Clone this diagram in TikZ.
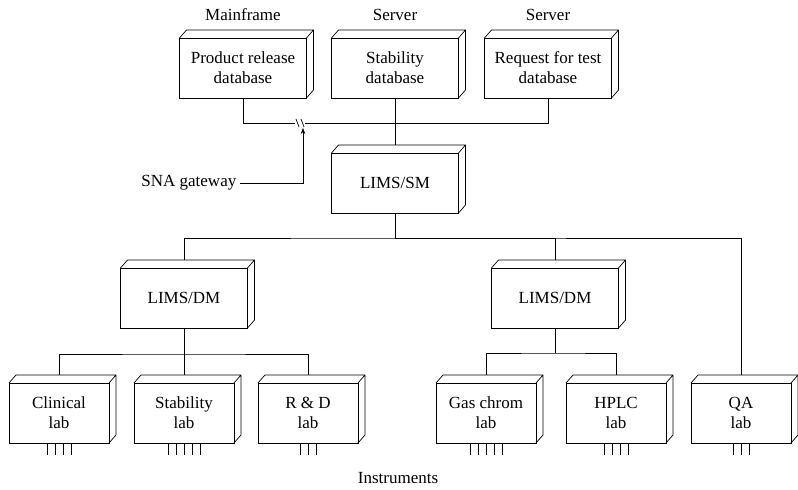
\documentclass[tikz,border=0pt]{standalone}
\usepackage{fontspec}
\setmainfont{Liberation Serif}
\usetikzlibrary{arrows.meta, positioning, calc}
\newcommand{\boxfont}{\fontsize{17pt}{20pt}\selectfont}
\tikzset{
  dbbox/.style={rectangle, minimum width=127pt, minimum height=60pt,
    draw=black, inner sep=0pt, outer sep=0pt, align=center, font=\boxfont},
  labbox/.style={rectangle, minimum width=100pt, minimum height=60pt,
    draw=black, inner sep=0pt, outer sep=0pt, align=center, font=\boxfont},
  caption/.style={font=\boxfont},
  arrow/.style={-{Stealth[length=6pt, width=4.5pt]}}
}

\begin{document}
\begin{tikzpicture}[x=1pt, y=1pt, line width=0.7pt]
\useasboundingbox (0,0) rectangle (798,490);

% databases on top
\node (stb) [dbbox] at (395,422)         {Stability\\database};
\node (prd) [dbbox, left=25pt of stb]    {Product release\\database};
\node (req) [dbbox, right=26pt of stb]   {Request for test\\database};
\node (mfr)  [caption, above=14pt of prd] {Mainframe};
\node (srv1) [caption, above=14pt of stb] {Server};
\node (srv2) [caption, above=14pt of req] {Server};

% LIMS managers
\node (sm)  [dbbox, below=55pt of stb] {LIMS/SM};
\node (dmL) [dbbox] at (184,192)       {LIMS/DM};
\node (dmR) [dbbox] at (555,192)       {LIMS/DM};

% labs
\node (clin) [labbox] at (59,77)          {Clinical\\lab};
\node (stbl) [labbox, right=25pt of clin] {Stability\\lab};
\node (rnd)  [labbox, right=24pt of stbl] {R \& D\\lab};
\node (gas)  [labbox] at (486,77)         {Gas chrom\\lab};
\node (hplc) [labbox, right=30pt of gas]  {HPLC\\lab};
\node (qa)   [labbox, right=25pt of hplc] {QA\\lab};

\node (sna)   [caption, anchor=east] at (240,307) {SNA gateway};
\node (instr) [caption, anchor=base] at (398,6)   {Instruments};

% top and side faces
\foreach \n in {prd,stb,req,sm,dmL,dmR,clin,stbl,rnd,gas,hplc,qa}{
  \draw (\n.north west) -- ++(7pt,8pt) -| ($(\n.south east)+(7pt,8pt)$) -- (\n.south east)
        (\n.north east) -- ++(7pt,8pt);
  \coordinate (\n-top) at ($(\n.north)+(0,8pt)$);
}

% instrument leads
\foreach \n/\k in {clin/4,stbl/5,rnd/3,gas/5,hplc/4,qa/3}
  \foreach \i in {1,...,\k}
    \draw ($(\n.south)+({(\i-(\k+1)/2)*8},0)$) -- ++(0,-12pt);

\coordinate (brkL) at (295,367);
\coordinate (brkR) at (305,367);
\coordinate (gw)   at (303,362);
\coordinate (busT) at (395,252);
\coordinate (busL) at (184,136);
\coordinate (busR) at (555,137);

\draw (prd.south) |- (brkL);
\draw (brkR) -| (req.south);
\draw ($(brkL)+(1,4)$) -- ++(3,-8)  ($(brkR)+(-4,4)$) -- ++(3,-8);
\draw (stb.south) -- (sm-top);
\draw [arrow] (sna.east) -| (gw);
\draw (sm.south) -- (busT);
\draw (dmL-top) |- (busT) -| (qa-top);
\draw (dmR-top) |- (busT);
\draw (dmL.south) -- (stbl-top);
\draw (clin-top) |- (busL) -| (rnd-top);
\draw (dmR.south) -- (busR);
\draw (gas-top) |- (busR) -| (hplc-top);
\end{tikzpicture}
\end{document}
